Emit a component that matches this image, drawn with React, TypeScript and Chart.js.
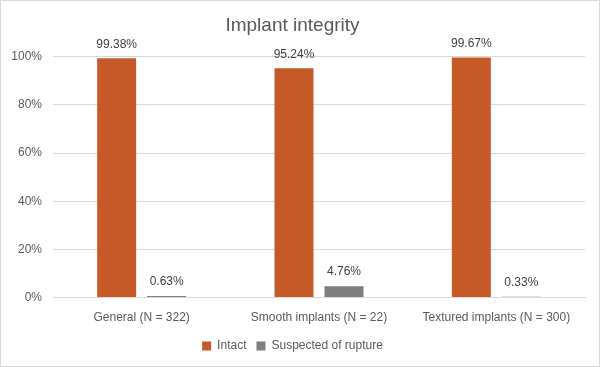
import React, { useEffect, useRef } from "react";
import { Chart, registerables } from "chart.js";

Chart.register(...registerables);

const categories = ["General (N = 322)", "Smooth implants (N = 22)", "Textured implants (N = 300)"];
const intact = [99.38, 95.24, 99.67];
const rupture = [0.63, 4.76, 0.33];
const seriesNames = ["Intact", "Suspected of rupture"];
const yTicks = [0, 20, 40, 60, 80, 100];

const FONT = "'Liberation Sans', Arial, sans-serif";

const frameAndLabels = {
  id: "frameAndLabels",
  afterDatasetsDraw(chart: any) {
    const ctx = chart.ctx;
    ctx.save();
    ctx.font = `12px ${FONT}`;
    ctx.fillStyle = "#404040";
    ctx.textAlign = "center";
    ctx.textBaseline = "bottom";
    chart.data.datasets.forEach((ds: any, i: number) => {
      const meta = chart.getDatasetMeta(i);
      meta.data.forEach((bar: any, j: number) => {
        ctx.fillText(ds.data[j].toFixed(2) + "%", bar.x, bar.y - 8);
      });
    });
    ctx.restore();
  },
  afterDraw(chart: any) {
    const ctx = chart.ctx;
    ctx.save();
    ctx.strokeStyle = "#d9d9d9";
    ctx.lineWidth = 1;
    ctx.strokeRect(0.5, 0.5, chart.width - 1, chart.height - 1);
    ctx.restore();
  },
};

export default function App() {
  const ref = useRef<HTMLCanvasElement>(null);
  useEffect(() => {
    document.body.style.margin = "0";
    const chart = new Chart(ref.current!, {
      type: "bar",
      data: {
        labels: categories,
        datasets: [
          { label: seriesNames[0], data: intact, backgroundColor: "#c55a28" },
          { label: seriesNames[1], data: rupture, backgroundColor: "#7f7f7f" },
        ],
      },
      options: {
        animation: false,
        responsive: false,
        maintainAspectRatio: false,
        layout: { padding: { left: 0, right: 15, top: 8, bottom: 5 } },
        datasets: {
          bar: { categoryPercentage: 0.564, barPercentage: 0.78 },
        },
        plugins: {
          title: {
            display: true,
            text: "Implant integrity",
            color: "#595959",
            font: { family: FONT, size: 19, weight: "normal" },
            padding: { top: 6, bottom: 20 },
          },
          legend: {
            position: "bottom",
            labels: {
              boxWidth: 9,
              boxHeight: 9,
              color: "#595959",
              font: { family: FONT, size: 12 },
              padding: 10,
            },
          },
          tooltip: { enabled: false },
        },
        scales: {
          x: {
            grid: { display: false },
            border: { color: "#d9d9d9" },
            ticks: { color: "#595959", font: { family: FONT, size: 12 }, padding: 5 },
          },
          y: {
            min: 0,
            max: 100,
            afterBuildTicks: (scale: any) => {
              scale.ticks = yTicks.map((v) => ({ value: v }));
            },
            afterFit: (scale: any) => {
              scale.width = 53;
            },
            grid: { color: "#d9d9d9", drawTicks: false },
            border: { display: false },
            ticks: {
              color: "#595959",
              font: { family: FONT, size: 12 },
              padding: 11,
              callback: (v: any) => v + "%",
            },
          },
        },
      },
      plugins: [frameAndLabels],
    });
    return () => chart.destroy();
  }, []);
  return <canvas ref={ref} width={600} height={367} style={{ display: "block" }} />;
}
